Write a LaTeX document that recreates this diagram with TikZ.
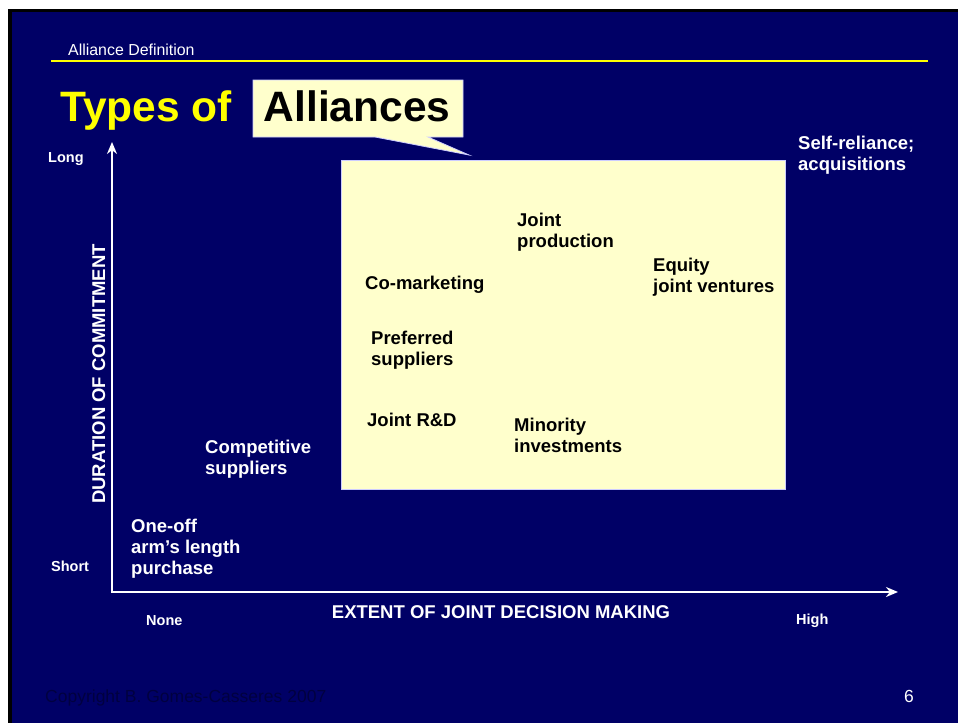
\documentclass[tikz,border=0pt]{standalone}
\usepackage{fontspec}
\setmainfont{Liberation Sans}
\usetikzlibrary{arrows.meta, positioning}
\definecolor{slidenavy}{RGB}{0, 0, 102}
\definecolor{slideyellow}{RGB}{255, 255, 0}
\definecolor{paleyellow}{RGB}{255, 255, 204}
\definecolor{paleedge}{RGB}{204, 204, 255}
\definecolor{dimnavy}{RGB}{0, 0, 64}

\begin{document}
\begin{tikzpicture}[x=1pt, y=-1pt,
  lbl/.style={anchor=base west, align=left, inner sep=0pt, font=\bfseries\fontsize{18.5}{21}\selectfont},
  wlbl/.style={lbl, text=white},
  blbl/.style={lbl, text=black},
  endlbl/.style={anchor=base west, inner sep=0pt, text=white, font=\bfseries\fontsize{14.5}{17}\selectfont},
  axisarrow/.style={draw=white, line width=2.4pt, {Stealth[length=12pt, width=10pt]}-{Stealth[length=12pt, width=10pt]}}
]
  \useasboundingbox (0,0) rectangle (958,723);
  % slide background
  \fill[white] (0,0) rectangle (958,723);
  \fill[black] (8,9) rectangle (958,723);
  \fill[slidenavy] (12,12) rectangle (958,723);

  \node[anchor=base west, inner sep=0pt, text=white, font=\fontsize{15.9}{18}\selectfont] (hdr) at (68,55) {Alliance Definition};
  \draw[slideyellow, line width=2.5pt] (51,61) -- (928,61);

  % title with callout
  \node[anchor=base west, inner sep=0pt, text=slideyellow, font=\bfseries\fontsize{42.5}{50}\selectfont] (types) at (60,121) {Types of};
  \filldraw[fill=paleyellow, draw=paleedge, line width=0.8pt] (253,80) -- (463,80) -- (463,137) -- (428,137) -- (469,155) -- (375,137) -- (253,137) -- cycle;
  \node[anchor=base, inner sep=0pt, text=black, font=\bfseries\fontsize{42.5}{50}\selectfont] (alliances) at (357,121) {Alliances};

  \node[anchor=north west, inner sep=0pt, draw=paleedge, fill=paleyellow, line width=0.8pt, minimum width=444pt, minimum height=329pt] (field) at (341,160) {};

  % axes
  \coordinate (origin) at (112,592);
  \coordinate (ytop) at (112,142);
  \coordinate (xend) at (898,592);
  \draw[axisarrow] (ytop) -- (origin) -- (xend);

  \node[endlbl] (long) at (48,162) {Long};
  \node[endlbl] (short) at (51,571) {Short};
  \node[endlbl] (none) at (146,625) {None};
  \node[endlbl] (high) at (796,624) {High};
  \node[lbl, anchor=base, text=white] (extent) at (501,618) {EXTENT OF JOINT DECISION MAKING};
  \node[lbl, anchor=base, text=white, rotate=90] (duration) at (105,374) {DURATION OF COMMITMENT};

  % alliance types (base = last line)
  \node[blbl] (jprod) at (517,247) {Joint\\production};
  \node[blbl] (comkt) at (365,289) {Co-marketing};
  \node[blbl] (equity) at (653,292) {Equity\\joint ventures};
  \node[blbl] (prefsup) at (371,365) {Preferred\\suppliers};
  \node[blbl] (jrd) at (367,426) {Joint R\&D};
  \node[blbl] (minority) at (514,452) {Minority\\investments};
  \node[wlbl] (compsup) at (205,474) {Competitive\\suppliers};
  \node[wlbl] (oneoff) at (131,574) {One-off\\arm’s length\\purchase};
  \node[wlbl] (selfrel) at (798,170) {Self-reliance;\\acquisitions};

  % footer
  \node[anchor=base west, inner sep=0pt, text=dimnavy, font=\fontsize{17.5}{20}\selectfont] (copy) at (45,702) {Copyright B. Gomes-Casseres 2007};
  \node[anchor=base east, inner sep=0pt, text=white, font=\fontsize{17.5}{20}\selectfont] (pageno) at (914,702) {6};
\end{tikzpicture}
\end{document}
